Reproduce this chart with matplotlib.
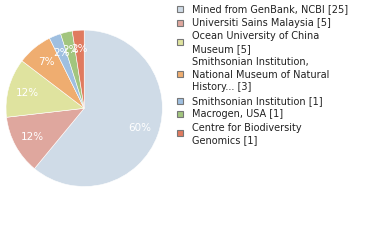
import matplotlib
matplotlib.use("Agg")
import matplotlib.pyplot as plt
from matplotlib.patches import Rectangle

labels = [
    "Mined from GenBank, NCBI [25]",
    "Universiti Sains Malaysia [5]",
    "Ocean University of China\nMuseum [5]",
    "Smithsonian Institution,\nNational Museum of Natural\nHistory... [3]",
    "Smithsonian Institution [1]",
    "Macrogen, USA [1]",
    "Centre for Biodiversity\nGenomics [1]",
]
counts = [25, 5, 5, 3, 1, 1, 1]
colors = ["#cfdbe7", "#dfa79e", "#dfe39f", "#efad70", "#9fbfe0", "#a2c57e", "#e07a5f"]

W, H, DPI = 380, 240, 100
fig = plt.figure(figsize=(W / DPI, H / DPI), dpi=DPI)

# pie axes: centre (84, 108) px, radius 78 px
cx, cy, r = 84.2, 108.3, 78.2
ax = fig.add_axes([(cx - r) / W, 1 - (cy + r) / H, 2 * r / W, 2 * r / H])
wedges, texts, autotexts = ax.pie(
    counts,
    colors=colors,
    startangle=90,
    counterclock=False,
    autopct=lambda p: f"{int(p)}%",
    pctdistance=0.76,
    radius=1.0,
    wedgeprops=dict(linewidth=0.4, edgecolor="white"),
    textprops=dict(color="white", fontsize=7.5, family="DejaVu Sans"),
)
ax.set_xlim(-1, 1)
ax.set_ylim(-1, 1)
ax.set_aspect("equal")
ax.axis("off")

# legend drawn as squares plus wrapped text
line_h = 12.4
gap = 1.2
y = 9.0
sq = 6.0
for lab, col in zip(labels, colors):
    n = lab.count("\n") + 1
    y_first = y
    y_last = y + (n - 1) * line_h
    yc = (y_first + y_last) / 2 - (0.8 if n > 1 else 0)
    fig.patches.append(Rectangle(((179.7 - sq / 2) / W, 1 - (yc + sq / 2) / H),
                                 sq / W, sq / H, transform=fig.transFigure,
                                 facecolor=col, edgecolor="#777777", linewidth=0.8))
    for i, part in enumerate(lab.split("\n")):
        fig.text(192 / W, 1 - (y_first + i * line_h) / H, part,
                 fontsize=7, family="DejaVu Sans", color="#222222",
                 ha="left", va="center")
    y = y_last + line_h + gap

fig.savefig("out.png", dpi=DPI)
